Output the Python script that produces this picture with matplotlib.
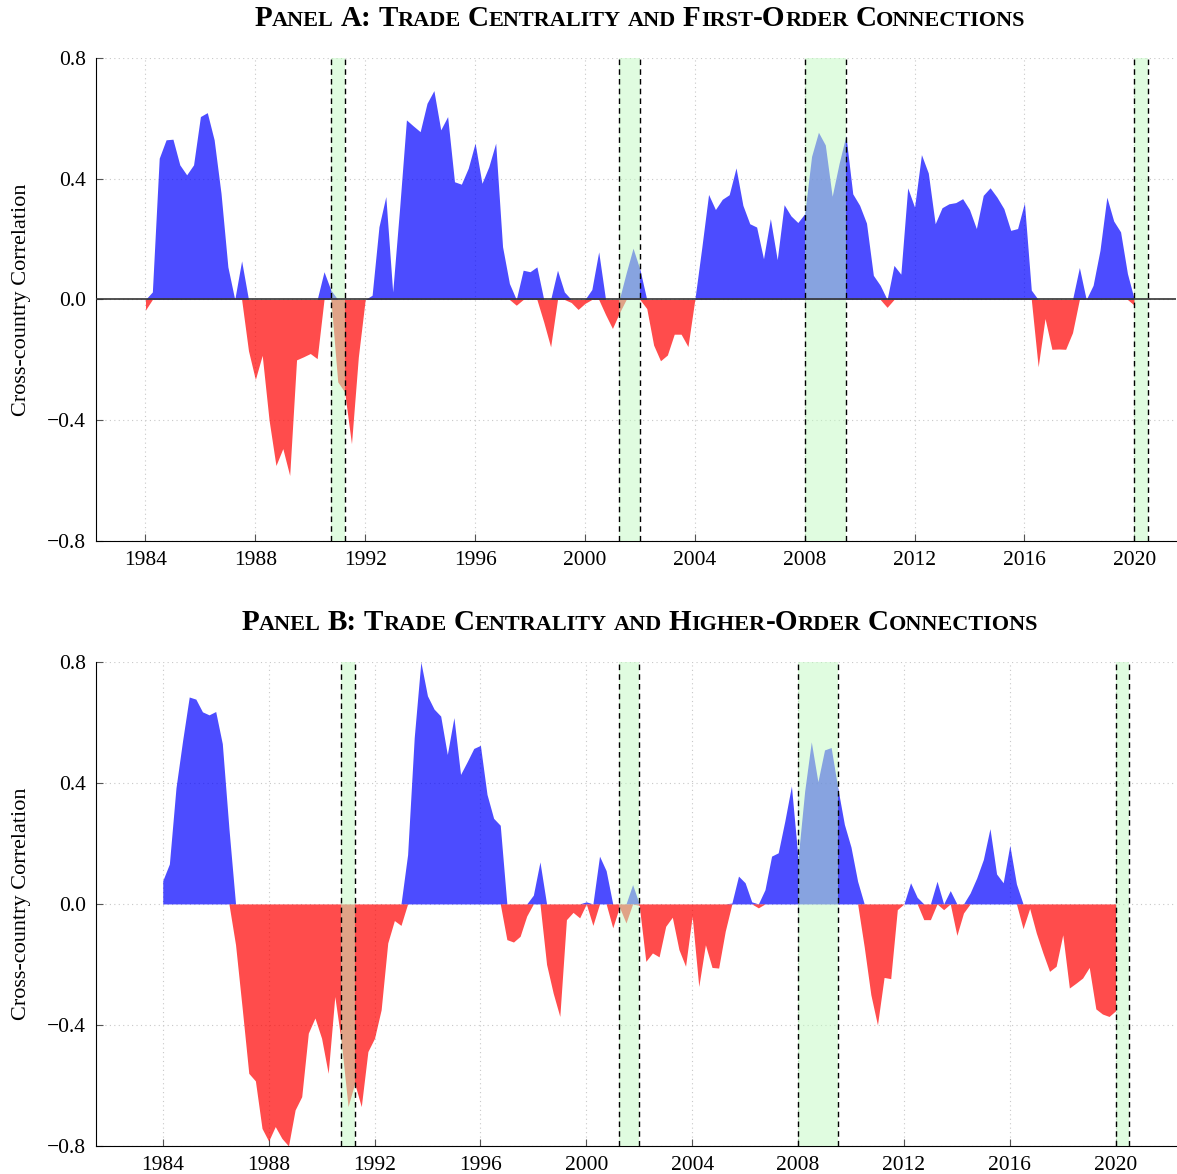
import numpy as np
import matplotlib
matplotlib.use("Agg")
import matplotlib.pyplot as plt
from matplotlib.offsetbox import TextArea, HPacker, AnnotationBbox

plt.rcParams['font.family'] = ['Liberation Serif', 'DejaVu Serif']

# quarterly cross-country correlations, 1984Q1 .. 2020Q1
start_year = 1984
first_order = [
    -0.035, 0.025, 0.468, 0.529, 0.531, 0.446, 0.413, 0.446, 0.606, 0.619,
    0.529, 0.352, 0.108, 0.0, 0.128, -0.17, -0.265, -0.185, -0.40, -0.55,
    -0.494, -0.583, -0.20, -0.19, -0.179, -0.196, 0.092, 0.031, -0.273, -0.306,
    -0.478, -0.19, 0.0, 0.014, 0.241, 0.341, 0.025, 0.30, 0.595, 0.575,
    0.556, 0.650, 0.692, 0.562, 0.606, 0.39, 0.382, 0.435, 0.518, 0.385,
    0.44, 0.518, 0.175, 0.053, -0.019, 0.097, 0.092, 0.108, -0.075, -0.157,
    0.097, 0.025, -0.01, -0.033, -0.013, 0.033, 0.158, -0.05, -0.096, -0.045,
    0.088, 0.17, 0.10, -0.03, -0.151, -0.203, -0.184, -0.115, -0.115, -0.156,
    0.0, 0.17, 0.348, 0.298, 0.332, 0.347, 0.436, 0.312, 0.251, 0.24,
    0.135, 0.268, 0.132, 0.314, 0.277, 0.255, 0.284, 0.474, 0.554, 0.512,
    0.342, 0.45, 0.543, 0.35, 0.312, 0.253, 0.08, 0.047, -0.026, 0.113,
    0.084, 0.37, 0.306, 0.48, 0.419, 0.251, 0.304, 0.317, 0.321, 0.334,
    0.298, 0.235, 0.345, 0.37, 0.339, 0.301, 0.229, 0.235, 0.32, 0.031,
    -0.223, -0.063, -0.165, -0.164, -0.165, -0.11, 0.106, 0.0, 0.047, 0.163,
    0.339, 0.26, 0.224, 0.086, -0.019,
]
higher_order = [
    0.077, 0.132, 0.384, 0.54, 0.684, 0.677, 0.635, 0.625, 0.636, 0.53,
    0.25, -0.135, -0.344, -0.56, -0.585, -0.742, -0.784, -0.736, -0.775, -0.80,
    -0.681, -0.637, -0.427, -0.377, -0.444, -0.56, -0.306, -0.46, -0.67, -0.593,
    -0.67, -0.488, -0.444, -0.35, -0.129, -0.055, -0.071, 0.163, 0.55, 0.80,
    0.688, 0.644, 0.621, 0.494, 0.616, 0.428, 0.47, 0.514, 0.524, 0.362,
    0.283, 0.26, -0.118, -0.126, -0.107, -0.04, 0.029, 0.139, -0.2, -0.295,
    -0.372, -0.052, -0.028, -0.046, 0.007, -0.071, 0.158, 0.11, -0.079, -0.01,
    -0.063, 0.064, -0.005, -0.19, -0.162, -0.175, -0.074, -0.044, -0.151, -0.206,
    -0.041, -0.273, -0.135, -0.21, -0.212, -0.09, 0.003, 0.092, 0.07, 0.007,
    -0.013, 0.047, 0.158, 0.169, 0.274, 0.39, 0.15, 0.373, 0.536, 0.404,
    0.509, 0.517, 0.384, 0.263, 0.188, 0.075, -0.142, -0.30, -0.40, -0.243,
    -0.247, -0.019, 0.0, 0.07, 0.022, -0.052, -0.052, 0.075, -0.019, 0.044,
    -0.104, -0.03, 0.036, 0.086, 0.147, 0.249, 0.099, 0.07, 0.194, 0.066,
    -0.082, -0.015, -0.096, -0.162, -0.223, -0.206, -0.102, -0.278, -0.262, -0.245,
    -0.21, -0.347, -0.364, -0.372, -0.353,
]
# NBER recessions (start, end) in fractional years
recessions = [(1990.75, 1991.25), (2001.25, 2002.0), (2008.0, 2009.5), (2020.0, 2020.5)]
year_ticks = list(range(1984, 2021, 4))
y_ticks = [-0.8, -0.4, 0.0, 0.4, 0.8]
titles = ["Panel A: Trade Centrality and First-Order Connections",
          "Panel B: Trade Centrality and Higher-Order Connections"]


def small_caps(fig, text, x, y, big=21, small=16):
    """fake small caps: lower-case letters drawn as smaller capitals"""
    words = []
    for w in text.split(' '):
        runs = []
        for ch in w:
            low = ch.islower()
            if runs and runs[-1][0] == low:
                runs[-1][1] += ch
            else:
                runs.append([low, ch])
        parts = [TextArea(s.upper() if low else s,
                          textprops=dict(fontsize=small if low else big, fontweight='bold'))
                 for low, s in runs]
        words.append(HPacker(children=parts, align='baseline', pad=0, sep=0))
    box = HPacker(children=words, align='baseline', pad=0, sep=5)
    fig.add_artist(AnnotationBbox(box, (x, y), xycoords='figure fraction',
                                  frameon=False, box_alignment=(0.5, 0.5)))


fig = plt.figure(figsize=(11.77, 11.74), dpi=100)
axA = fig.add_axes([0.0816, 0.5392, 0.9176, 0.4114])
axB = fig.add_axes([0.0816, 0.0239, 0.9176, 0.4123])

for ax, data, xlim in [(axA, first_order, (1982.2, 2021.52)),
                       (axB, higher_order, (1981.48, 2022.28))]:
    y = np.array(data)
    x = start_year + 0.25 * np.arange(len(y))
    ax.fill_between(x, 0, np.maximum(y, 0), color='blue', alpha=0.7, lw=0, zorder=2)
    ax.fill_between(x, 0, np.minimum(y, 0), color='red', alpha=0.7, lw=0, zorder=2)
    for a, b in recessions:
        ax.axvspan(a, b, color='#c2fac2', alpha=0.5, lw=0, zorder=3)
        ax.axvline(a, color='black', ls=(0, (4, 3)), lw=1, zorder=4)
        ax.axvline(b, color='black', ls=(0, (4, 3)), lw=1, zorder=4)
    ax.set_xlim(*xlim)
    ax.set_ylim(-0.8, 0.8)
    ax.set_xticks(year_ticks)
    ax.set_yticks(y_ticks)
    ax.set_yticklabels(['\u22120.8', '\u22120.4', '0.0', '0.4', '0.8'])
    ax.grid(True, ls=(0, (1, 3)), color='#c8c8c8', lw=0.8, zorder=0)
    ax.set_axisbelow(True)
    for s in ['top', 'right']:
        ax.spines[s].set_visible(False)
    ax.tick_params(direction='in', length=5, width=0.8, labelsize=15.5, pad=7,
                   color='#555555')
    ax.set_ylabel("Cross-country Correlation", fontsize=16, labelpad=12)

axA.axhline(0, color='#333333', lw=1.2, zorder=5)

small_caps(fig, titles[0], 640 / 1177, 1 - 19 / 1174)
small_caps(fig, titles[1], 640 / 1177, 1 - 623 / 1174)

fig.savefig("out.png", dpi=100)
